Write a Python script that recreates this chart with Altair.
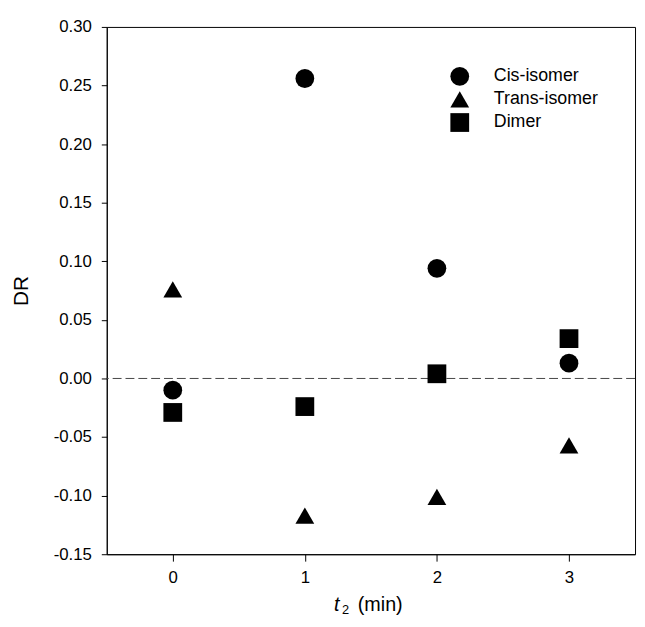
import altair as alt
import pandas as pd

# ---- data ----
t_values = [0, 1, 2, 3]
cis_isomer = [-0.010, 0.256, 0.094, 0.013]
trans_isomer = [0.076, -0.117, -0.101, -0.057]
dimer = [-0.029, -0.024, 0.004, 0.034]
series_names = ["Cis-isomer", "Trans-isomer", "Dimer"]
y_ticks = [-0.15, -0.10, -0.05, 0.00, 0.05, 0.10, 0.15, 0.20, 0.25, 0.30]
x_ticks = [0, 1, 2, 3]

rows = []
for name, vals in zip(series_names, [cis_isomer, trans_isomer, dimer]):
    for t, v in zip(t_values, vals):
        rows.append({"t": t, "DR": v, "series": name})
df = pd.DataFrame(rows)

FONT = "Liberation Sans"
W, H = 535, 534

x_scale = alt.Scale(domain=[-0.5, 3.5], nice=False, zero=False)
y_scale = alt.Scale(domain=[-0.15, 0.30], nice=False, zero=False)

points = alt.Chart(df).mark_point(filled=True, opacity=1, color="black", strokeWidth=0).encode(
    x=alt.X("t:Q", scale=x_scale,
            axis=alt.Axis(values=x_ticks, title=None, grid=False, format="d",
                          tickSize=7, labelPadding=8.5, labelFontSize=17, labelFont=FONT,
                          labelColor="black", domainColor="black", tickColor="black")),
    y=alt.Y("DR:Q", scale=y_scale,
            axis=alt.Axis(values=y_ticks, title="DR", grid=False,
                          labelExpr="datum.value < 0 ? '-' + format(-datum.value, '.2f') : format(datum.value, '.2f')",
                          tickSize=5.5, labelPadding=10, labelFontSize=17, labelFont=FONT,
                          labelColor="black", domainColor="black", tickColor="black",
                          titleFont=FONT, titleFontSize=21, titleFontWeight="normal",
                          titleColor="black", titleAngle=-90, titleX=-86, titleY=H / 2,
                          titleAlign="center", titleBaseline="middle")),
    shape=alt.Shape("series:N",
                    scale=alt.Scale(domain=series_names, range=["circle", "triangle-up", "square"]),
                    legend=alt.Legend(title=None, orient="none", legendX=348, legendY=40.5,
                                      labelFont=FONT, labelFontSize=18, labelColor="black",
                                      labelOffset=25, rowPadding=4.4, padding=0,
                                      symbolFillColor="black", symbolStrokeWidth=0,
                                      symbolOpacity=1)),
    size=alt.Size("series:N",
                  scale=alt.Scale(domain=series_names, range=[361, 361, 289]),
                  legend=alt.Legend(title=None, orient="none", legendX=348, legendY=40.5,
                                    labelFont=FONT, labelFontSize=18, labelColor="black",
                                    labelOffset=25, rowPadding=4.4, padding=0,
                                    symbolFillColor="black", symbolStrokeWidth=0,
                                    symbolOpacity=1)),
)

one = alt.Data(values=[{}])

zero_line = alt.Chart(one).mark_rule(color="#444444", strokeWidth=1, strokeDash=[9, 4]).encode(
    y=alt.datum(0, scale=y_scale)
)

title_t = alt.Chart(one).mark_text(text="t", font=FONT, fontSize=20, fontStyle="italic",
                                   align="left", baseline="alphabetic", color="black").encode(
    x=alt.value(230.2), y=alt.value(591.5))
title_sub = alt.Chart(one).mark_text(text="2", font=FONT, fontSize=13,
                                     align="left", baseline="alphabetic", color="black").encode(
    x=alt.value(238.2), y=alt.value(594.5))
title_min = alt.Chart(one).mark_text(text="(min)", font=FONT, fontSize=20,
                                     align="left", baseline="alphabetic", color="black").encode(
    x=alt.value(254.2), y=alt.value(591.5))

chart = alt.layer(zero_line, points, title_t, title_sub, title_min).properties(
    width=W, height=H,
    autosize=alt.AutoSizeParams(type="none"),
    padding={"left": 100, "top": 15.3, "right": 2, "bottom": 61},
).configure_view(stroke="black", strokeWidth=1).configure_axis(domainWidth=1, tickWidth=1)

chart.save("out.html", embed_options={"renderer": "svg", "actions": False})
